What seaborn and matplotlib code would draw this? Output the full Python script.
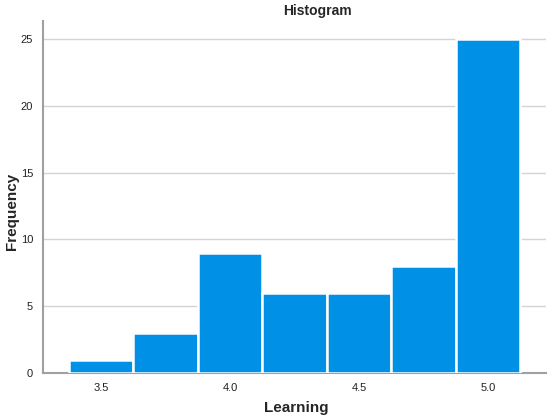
import numpy as np
import pandas as pd
import matplotlib
matplotlib.use("Agg")
import matplotlib.pyplot as plt
import seaborn as sns

# bin centers (Learning score) and their frequencies
bin_centers = [3.5, 3.75, 4.0, 4.25, 4.5, 4.75, 5.0]
counts = [1, 3, 9, 6, 6, 8, 25]
x_ticks = [3.5, 4.0, 4.5, 5.0]
y_ticks = [0, 5, 10, 15, 20, 25]

df = pd.DataFrame({"Learning": bin_centers, "count": counts})
edges = [c - 0.125 for c in bin_centers] + [bin_centers[-1] + 0.125]

sns.set_style("white")
plt.rcParams["font.family"] = ["Liberation Sans", "DejaVu Sans"]

fig = plt.figure(figsize=(5.5, 4.2), dpi=100)
ax = fig.add_axes([0.078, 0.112, 0.915, 0.838])

sns.histplot(data=df, x="Learning", weights="count", bins=edges, ax=ax,
             color="#0091E6", alpha=1, edgecolor="white", linewidth=1.8, zorder=3)

ax.set_xlim(3.275, 5.225)
ax.set_ylim(0, 26.35)
ax.set_xticks(x_ticks)
ax.set_xticklabels([f"{v:.1f}" for v in x_ticks])
ax.set_yticks(y_ticks)
ax.yaxis.grid(True, color="#d4d4d4", linewidth=1.0, zorder=0)
ax.set_axisbelow(True)
ax.tick_params(axis="both", length=0, labelsize=8, colors="#222222", pad=7)

for side in ["top", "right"]:
    ax.spines[side].set_visible(False)
for side in ["left", "bottom"]:
    ax.spines[side].set_color("#a0a0a0")
    ax.spines[side].set_linewidth(1.5)

ax.set_xlabel("Learning", fontsize=11, fontweight="bold", va="center")
ax.set_ylabel("Frequency", fontsize=11, fontweight="bold", va="center")
ax.xaxis.set_label_coords(0.503, -0.099)
ax.yaxis.set_label_coords(-0.062, 0.46)
fig.text(317 / 550, 1 - 11 / 420, "Histogram", ha="center", va="center",
         fontsize=10, fontweight="bold")

fig.savefig("out.png", dpi=100)
